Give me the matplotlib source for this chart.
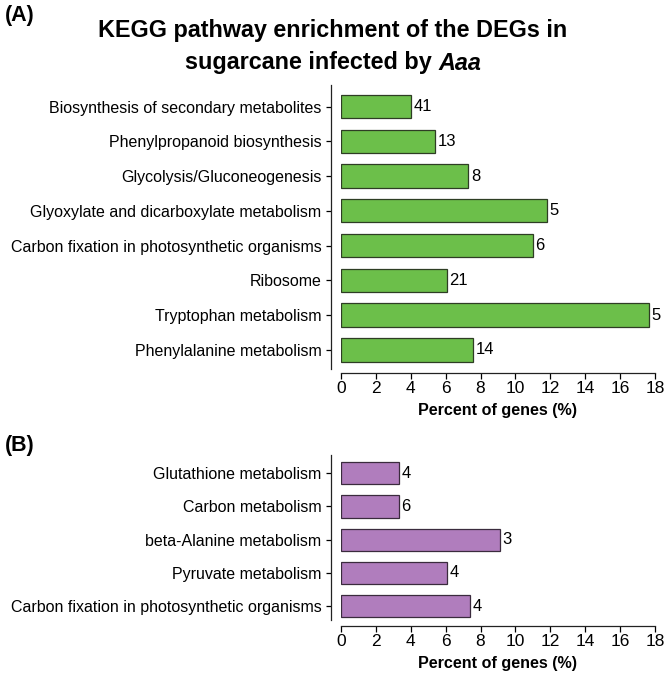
import matplotlib
matplotlib.use("Agg")
import matplotlib.pyplot as plt

plt.rcParams['font.family'] = ['Liberation Sans', 'DejaVu Sans']

cats_a = ["Biosynthesis of secondary metabolites", "Phenylpropanoid biosynthesis",
          "Glycolysis/Gluconeogenesis", "Glyoxylate and dicarboxylate metabolism",
          "Carbon fixation in photosynthetic organisms", "Ribosome",
          "Tryptophan metabolism", "Phenylalanine metabolism"]
pct_a = [4.0, 5.4, 7.3, 11.8, 11.0, 6.05, 17.65, 7.55]
cnt_a = [41, 13, 8, 5, 6, 21, 5, 14]

cats_b = ["Glutathione metabolism", "Carbon metabolism", "beta-Alanine metabolism",
          "Pyruvate metabolism", "Carbon fixation in photosynthetic organisms"]
pct_b = [3.3, 3.3, 9.1, 6.1, 7.42]
cnt_b = [4, 6, 3, 4, 4]

xticks = [0, 2, 4, 6, 8, 10, 12, 14, 16, 18]

W, H = 666, 676
fig = plt.figure(figsize=(W / 100, H / 100), dpi=100)

def px_axes(x0, y0, x1, y1):
    return fig.add_axes([x0 / W, 1 - y1 / H, (x1 - x0) / W, (y1 - y0) / H])

def panel(ax, cats, vals, cnts, color, edge, ylim, outward_bottom):
    y = list(range(len(cats)))
    ax.barh(y, vals, height=0.67, color=color, edgecolor=edge, linewidth=0.9)
    for yi, v, c in zip(y, vals, cnts):
        ax.text(v + 0.15, yi, str(c), va='center', ha='left', fontsize=12)
    ax.set_yticks(y)
    ax.set_yticklabels(cats)
    ax.set_ylim(*ylim)
    ax.set_xlim(0, 18)
    ax.set_xticks(xticks)
    ax.set_xticklabels([str(t) for t in xticks])
    ax.spines['top'].set_visible(False)
    ax.spines['right'].set_visible(False)
    ax.spines['left'].set_position(('outward', 7.5))
    ax.spines['bottom'].set_position(('outward', outward_bottom))
    for s in ('left', 'bottom'):
        ax.spines[s].set_linewidth(0.9)
        ax.spines[s].set_color('#222222')
    ax.tick_params(axis='y', length=3.5, width=0.9, pad=3, labelsize=11.5)
    ax.tick_params(axis='x', length=4, width=0.9, pad=1.5, labelsize=12.5)
    ax.set_xlabel("Percent of genes (%)", fontsize=11.6, fontweight='bold', labelpad=5)

ax_a = px_axes(341, 85, 655, 369)
panel(ax_a, cats_a, pct_a, cnt_a, '#6cbf4a', '#2e3d24', (7.55, -0.62), 3)

ax_b = px_axes(341, 455, 655, 620)
panel(ax_b, cats_b, pct_b, cnt_b, '#b07dbd', '#3a2b3d', (4.42, -0.55), 4.5)

TFS = 16.8
fig.text(333 / W, 1 - 31 / H, "KEGG pathway enrichment of the DEGs in",
         ha='center', va='center', fontsize=TFS, fontweight='bold')

renderer = fig.canvas.get_renderer()
t1 = fig.text(0, 1 - 63 / H, "sugarcane infected by ", ha='left', va='center',
              fontsize=TFS, fontweight='bold')
t2 = fig.text(0, 1 - 63 / H, "Aaa", ha='left', va='center',
              fontsize=TFS, fontweight='bold', fontstyle='italic')
w1 = t1.get_window_extent(renderer).width
w2 = t2.get_window_extent(renderer).width
x0 = 333 - (w1 + w2) / 2
t1.set_x(x0 / W)
t2.set_x((x0 + w1) / W)

fig.text(5 / W, 1 - 16 / H, "(A)", ha='left', va='center', fontsize=15.5, fontweight='bold')
fig.text(5 / W, 1 - 446 / H, "(B)", ha='left', va='center', fontsize=15.5, fontweight='bold')

fig.savefig("out.png", dpi=100)
